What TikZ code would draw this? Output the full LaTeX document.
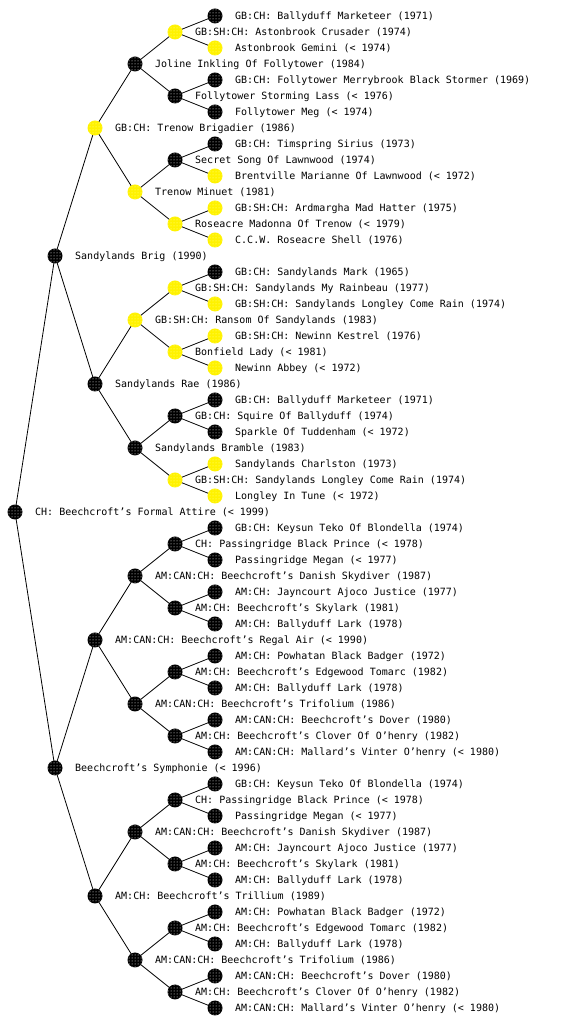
\documentclass[tikz,border=0pt]{standalone}
\usepackage{fontspec}
\setmonofont{DejaVu Sans Mono}
\usetikzlibrary{backgrounds,patterns}
\begin{document}
\begin{tikzpicture}[x=1pt,y=1pt,
  pnode/.style={circle,inner sep=0pt,minimum size=15pt,draw=none},
  blk/.style={pnode,fill=black,postaction={pattern=dots,pattern color=white}},
  ylw/.style={pnode,fill=yellow,postaction={pattern=dots,pattern color=yellow!40!white}},
  plabel/.style={anchor=base west,inner sep=0pt,xshift=20pt,yshift=-3.6pt,font=\ttfamily\fontsize{10}{12}\selectfont},
  link/.style={draw=black,line width=0.8pt}]
\useasboundingbox (0,0) rectangle (560,1024);
\newcommand\pednode[4]{%
  \node[#3] (n#1) at ({15+40*#2},{1024-16*#1}) {};
  \node[plabel] (t#1) at (n#1.center) {#4};
}
\pednode{1}{5}{blk}{GB:CH: Ballyduff Marketeer (1971)}
\pednode{2}{4}{ylw}{GB:SH:CH: Astonbrook Crusader (1974)}
\pednode{3}{5}{ylw}{Astonbrook Gemini (< 1974)}
\pednode{4}{3}{blk}{Joline Inkling Of Follytower (1984)}
\pednode{5}{5}{blk}{GB:CH: Follytower Merrybrook Black Stormer (1969)}
\pednode{6}{4}{blk}{Follytower Storming Lass (< 1976)}
\pednode{7}{5}{blk}{Follytower Meg (< 1974)}
\pednode{8}{2}{ylw}{GB:CH: Trenow Brigadier (1986)}
\pednode{9}{5}{blk}{GB:CH: Timspring Sirius (1973)}
\pednode{10}{4}{blk}{Secret Song Of Lawnwood (1974)}
\pednode{11}{5}{ylw}{Brentville Marianne Of Lawnwood (< 1972)}
\pednode{12}{3}{ylw}{Trenow Minuet (1981)}
\pednode{13}{5}{ylw}{GB:SH:CH: Ardmargha Mad Hatter (1975)}
\pednode{14}{4}{ylw}{Roseacre Madonna Of Trenow (< 1979)}
\pednode{15}{5}{ylw}{C.C.W. Roseacre Shell (1976)}
\pednode{16}{1}{blk}{Sandylands Brig (1990)}
\pednode{17}{5}{blk}{GB:CH: Sandylands Mark (1965)}
\pednode{18}{4}{ylw}{GB:SH:CH: Sandylands My Rainbeau (1977)}
\pednode{19}{5}{ylw}{GB:SH:CH: Sandylands Longley Come Rain (1974)}
\pednode{20}{3}{ylw}{GB:SH:CH: Ransom Of Sandylands (1983)}
\pednode{21}{5}{ylw}{GB:SH:CH: Newinn Kestrel (1976)}
\pednode{22}{4}{ylw}{Bonfield Lady (< 1981)}
\pednode{23}{5}{ylw}{Newinn Abbey (< 1972)}
\pednode{24}{2}{blk}{Sandylands Rae (1986)}
\pednode{25}{5}{blk}{GB:CH: Ballyduff Marketeer (1971)}
\pednode{26}{4}{blk}{GB:CH: Squire Of Ballyduff (1974)}
\pednode{27}{5}{blk}{Sparkle Of Tuddenham (< 1972)}
\pednode{28}{3}{blk}{Sandylands Bramble (1983)}
\pednode{29}{5}{ylw}{Sandylands Charlston (1973)}
\pednode{30}{4}{ylw}{GB:SH:CH: Sandylands Longley Come Rain (1974)}
\pednode{31}{5}{ylw}{Longley In Tune (< 1972)}
\pednode{32}{0}{blk}{CH: Beechcroft’s Formal Attire (< 1999)}
\pednode{33}{5}{blk}{GB:CH: Keysun Teko Of Blondella (1974)}
\pednode{34}{4}{blk}{CH: Passingridge Black Prince (< 1978)}
\pednode{35}{5}{blk}{Passingridge Megan (< 1977)}
\pednode{36}{3}{blk}{AM:CAN:CH: Beechcroft’s Danish Skydiver (1987)}
\pednode{37}{5}{blk}{AM:CH: Jayncourt Ajoco Justice (1977)}
\pednode{38}{4}{blk}{AM:CH: Beechcroft’s Skylark (1981)}
\pednode{39}{5}{blk}{AM:CH: Ballyduff Lark (1978)}
\pednode{40}{2}{blk}{AM:CAN:CH: Beechcroft’s Regal Air (< 1990)}
\pednode{41}{5}{blk}{AM:CH: Powhatan Black Badger (1972)}
\pednode{42}{4}{blk}{AM:CH: Beechcroft’s Edgewood Tomarc (1982)}
\pednode{43}{5}{blk}{AM:CH: Ballyduff Lark (1978)}
\pednode{44}{3}{blk}{AM:CAN:CH: Beechcroft’s Trifolium (1986)}
\pednode{45}{5}{blk}{AM:CAN:CH: Beechcroft’s Dover (1980)}
\pednode{46}{4}{blk}{AM:CH: Beechcroft’s Clover Of O’henry (1982)}
\pednode{47}{5}{blk}{AM:CAN:CH: Mallard’s Vinter O’henry (< 1980)}
\pednode{48}{1}{blk}{Beechcroft’s Symphonie (< 1996)}
\pednode{49}{5}{blk}{GB:CH: Keysun Teko Of Blondella (1974)}
\pednode{50}{4}{blk}{CH: Passingridge Black Prince (< 1978)}
\pednode{51}{5}{blk}{Passingridge Megan (< 1977)}
\pednode{52}{3}{blk}{AM:CAN:CH: Beechcroft’s Danish Skydiver (1987)}
\pednode{53}{5}{blk}{AM:CH: Jayncourt Ajoco Justice (1977)}
\pednode{54}{4}{blk}{AM:CH: Beechcroft’s Skylark (1981)}
\pednode{55}{5}{blk}{AM:CH: Ballyduff Lark (1978)}
\pednode{56}{2}{blk}{AM:CH: Beechcroft’s Trillium (1989)}
\pednode{57}{5}{blk}{AM:CH: Powhatan Black Badger (1972)}
\pednode{58}{4}{blk}{AM:CH: Beechcroft’s Edgewood Tomarc (1982)}
\pednode{59}{5}{blk}{AM:CH: Ballyduff Lark (1978)}
\pednode{60}{3}{blk}{AM:CAN:CH: Beechcroft’s Trifolium (1986)}
\pednode{61}{5}{blk}{AM:CAN:CH: Beechcroft’s Dover (1980)}
\pednode{62}{4}{blk}{AM:CH: Beechcroft’s Clover Of O’henry (1982)}
\pednode{63}{5}{blk}{AM:CAN:CH: Mallard’s Vinter O’henry (< 1980)}
\begin{pgfonlayer}{background}
\foreach \p/\s in {32/16,16/8,48/8,8/4,24/4,40/4,56/4,4/2,12/2,20/2,28/2,36/2,44/2,52/2,60/2,2/1,6/1,10/1,14/1,18/1,22/1,26/1,30/1,34/1,38/1,42/1,46/1,50/1,54/1,58/1,62/1}{
  \pgfmathtruncatemacro\ca{\p-\s}
  \pgfmathtruncatemacro\cb{\p+\s}
  \draw[link] (n\p.center) -- (n\ca.center) (n\p.center) -- (n\cb.center);
}
\end{pgfonlayer}
\end{tikzpicture}
\end{document}
